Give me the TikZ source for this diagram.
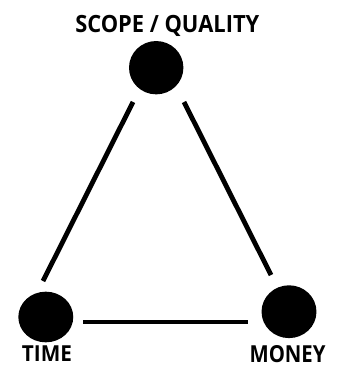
\documentclass[tikz,border=0pt]{standalone}
\usepackage{fontspec}
\setmainfont{Open Sans}
\usepackage{graphicx}
\usetikzlibrary{shapes.geometric}
\begin{document}
\begin{tikzpicture}[x=0.75pt,y=-0.75pt,
  dot/.style={fill=black,draw=none,ellipse,inner sep=0pt},
  link/.style={line width=3.6pt,black},
  lbl/.style={inner sep=0pt,anchor=base west}]
\useasboundingbox (0,0) rectangle (336,366);
\node[dot,minimum width=40.8pt,minimum height=40pt] (top) at (156.2,67.7) {};
\node[dot,minimum width=41.2pt,minimum height=38pt] (left) at (45.8,317) {};
\node[dot,minimum width=41.2pt,minimum height=39.6pt] (right) at (289,311.7) {};
\coordinate (tl) at (133,102);
\coordinate (lt) at (43,281);
\coordinate (tr) at (184,102);
\coordinate (rt) at (271,275);
\coordinate (lr) at (83,322);
\coordinate (rl) at (248,322);
\draw[link] (tl) -- (lt);
\draw[link] (tr) -- (rt);
\draw[link] (lr) -- (rl);
\node[lbl] (scope) at (75,32.3) {\resizebox{138pt}{12.9pt}{\bfseries SCOPE / QUALITY}};
\node[lbl] (time) at (21.7,361) {\resizebox{37.5pt}{11.8pt}{\bfseries TIME}};
\node[lbl] (money) at (249.3,362) {\resizebox{57pt}{12.75pt}{\bfseries MONEY}};
\end{tikzpicture}
\end{document}
